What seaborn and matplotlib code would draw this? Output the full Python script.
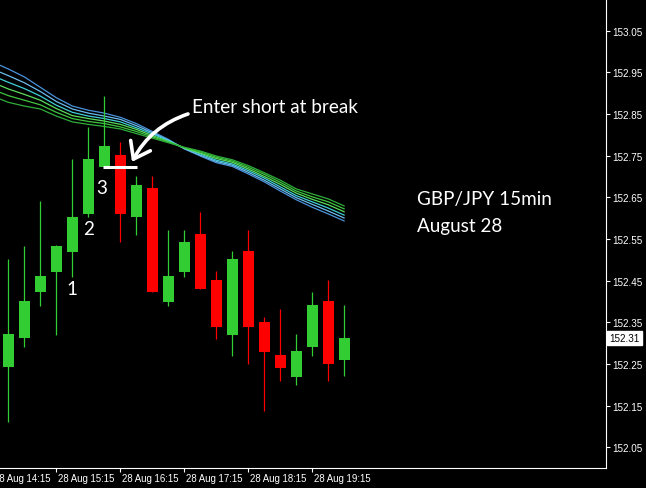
import numpy as np
import pandas as pd
import seaborn as sns
import matplotlib.pyplot as plt
from matplotlib.transforms import blended_transform_factory

# GBP/JPY 15min candles, 28 Aug 14:30 .. 19:45
candle_idx = list(range(22))
opens = [152.242, 152.312, 152.422, 152.471, 152.519, 152.610, 152.722, 152.752,
         152.602, 152.672, 152.399, 152.471, 152.562, 152.452, 152.320, 152.520,
         152.351, 152.271, 152.219, 152.290, 152.402, 152.260]
highs = [152.502, 152.534, 152.642, 152.536, 152.742, 152.818, 152.892, 152.782,
         152.700, 152.700, 152.572, 152.572, 152.614, 152.474, 152.520, 152.572,
         152.362, 152.382, 152.322, 152.423, 152.452, 152.391]
lows = [152.110, 152.290, 152.390, 152.320, 152.458, 152.602, 152.722, 152.542,
        152.560, 152.422, 152.390, 152.459, 152.430, 152.310, 152.270, 152.250,
        152.138, 152.210, 152.200, 152.270, 152.210, 152.220]
closes = [152.322, 152.402, 152.462, 152.534, 152.602, 152.742, 152.773, 152.610,
          152.680, 152.422, 152.460, 152.542, 152.430, 152.339, 152.502, 152.339,
          152.279, 152.241, 152.280, 152.391, 152.250, 152.312]

# moving average ribbon (6 lines), one value per candle starting one bar earlier
ma_idx = list(range(-1, 22))
ma_1 = [152.975, 152.958, 152.939, 152.914, 152.889, 152.869, 152.859, 152.852,
        152.842, 152.827, 152.808, 152.789, 152.766, 152.749, 152.733, 152.724,
        152.706, 152.687, 152.665, 152.644, 152.626, 152.610, 152.593]
ma_2 = [152.958, 152.942, 152.925, 152.904, 152.880, 152.862, 152.852, 152.845,
        152.837, 152.822, 152.805, 152.787, 152.767, 152.751, 152.736, 152.727,
        152.710, 152.691, 152.670, 152.649, 152.633, 152.617, 152.600]
ma_3 = [152.942, 152.926, 152.911, 152.893, 152.871, 152.854, 152.845, 152.839,
        152.831, 152.817, 152.802, 152.786, 152.768, 152.754, 152.739, 152.730,
        152.714, 152.696, 152.675, 152.654, 152.639, 152.624, 152.607]
ma_4 = [152.926, 152.910, 152.897, 152.883, 152.863, 152.846, 152.839, 152.833,
        152.825, 152.813, 152.798, 152.784, 152.768, 152.756, 152.743, 152.734,
        152.718, 152.700, 152.681, 152.660, 152.645, 152.632, 152.615]
ma_5 = [152.909, 152.894, 152.883, 152.872, 152.854, 152.839, 152.832, 152.827,
        152.819, 152.808, 152.795, 152.783, 152.769, 152.759, 152.746, 152.737,
        152.722, 152.705, 152.686, 152.665, 152.651, 152.639, 152.622]
ma_6 = [152.893, 152.878, 152.869, 152.862, 152.845, 152.831, 152.825, 152.820,
        152.814, 152.803, 152.792, 152.781, 152.770, 152.761, 152.749, 152.740,
        152.726, 152.709, 152.691, 152.670, 152.658, 152.646, 152.629]
ma_colors = ['#4a93dc', '#6cbcee', '#3fcfd6', '#5cdc5c', '#3fc63f', '#2fae3a']

ytick_vals = [152.05, 152.15, 152.25, 152.35, 152.45, 152.55,
              152.65, 152.75, 152.85, 152.95, 153.05]
xtick_idx = [-1, 3, 7, 11, 15, 19]
xtick_labels = ['28 Aug 14:15', '28 Aug 15:15', '28 Aug 16:15',
                '28 Aug 17:15', '28 Aug 18:15', '28 Aug 19:15']

sns.set_theme(style='dark', rc={'axes.facecolor': 'black',
                                'figure.facecolor': 'black',
                                'axes.grid': False})
plt.rcParams['font.family'] = ['Liberation Sans', 'DejaVu Sans']

fig = plt.figure(figsize=(6.46, 4.89), dpi=100)
ax = fig.add_axes([0, 20 / 489, 605.7 / 646, 469 / 489])

# MA ribbon
ma_df = pd.concat([
    pd.DataFrame({'idx': ma_idx, 'price': vals, 'line': name})
    for name, vals in zip(['m1', 'm2', 'm3', 'm4', 'm5', 'm6'],
                          [ma_1, ma_2, ma_3, ma_4, ma_5, ma_6])
])
sns.lineplot(data=ma_df, x='idx', y='price', hue='line', palette=ma_colors,
             legend=False, linewidth=0.9, ax=ax, zorder=2)

# candles
up = np.array(closes) >= np.array(opens)
cols = np.where(up, '#32cd32', '#ff0000')
ax.vlines(candle_idx, lows, highs, colors=cols, linewidth=0.9, zorder=3)
bottoms = np.minimum(opens, closes)
heights = np.abs(np.array(closes) - np.array(opens))
ax.bar(candle_idx, heights, bottom=bottoms, width=0.68, color=cols,
       linewidth=0, zorder=4)

ax.set_xlabel('')
ax.set_ylabel('')

# axes look (MT4 style)
for side in ['top', 'left']:
    ax.spines[side].set_visible(False)
for side in ['right', 'bottom']:
    ax.spines[side].set_visible(True)
    ax.spines[side].set_color('white')
    ax.spines[side].set_linewidth(0.8)

ax.yaxis.tick_right()
ax.set_yticks(ytick_vals, labels=[f'{v:.2f}' for v in ytick_vals])
ax.tick_params(axis='y', colors='white', labelsize=7.1, length=3, width=0.8,
               pad=2, direction='out', right=True, left=False)
ax.set_xticks(xtick_idx, labels=[''] * len(xtick_idx))
ax.tick_params(axis='x', colors='white', length=3, width=0.8,
               direction='out', bottom=True)

# limits last: set_xticks would widen them
ax.set_xlim(-0.52, 37.34)
ax.set_ylim(152.0, 153.126)

xtrans = blended_transform_factory(ax.transData, ax.transAxes)
for xi, lab in zip(xtick_idx, xtick_labels):
    ax.text(xi + 0.1, -0.022, lab, transform=xtrans, ha='left', va='center',
            color='white', fontsize=6.9, clip_on=False)

# current price box
ytrans = blended_transform_factory(ax.transAxes, ax.transData)
ax.text(1.006, closes[-1], f'{closes[-1]:.2f}', transform=ytrans,
        ha='left', va='center', color='black', fontsize=7.1, clip_on=False,
        bbox=dict(boxstyle='square,pad=0.2', fc='white', ec='white'))

# annotations
ann_font = dict(color='white', family='Lato', fontsize=13.6)
ax.text(11.48, 152.867, 'Enter short at break', ha='left', va='center', **ann_font)
ax.text(25.54, 152.646, 'GBP/JPY 15min', ha='left', va='center', **ann_font)
ax.text(25.54, 152.583, 'August 28', ha='left', va='center', **ann_font)
ax.text(4, lows[4] - 0.028, '1', ha='center', va='center', **ann_font)
ax.text(5, lows[5] - 0.026, '2', ha='center', va='center', **ann_font)
ax.text(5.85, lows[6] - 0.048, '3', ha='center', va='center', **ann_font)

ax.hlines(opens[6], 5.9, 8.05, colors='white', linewidth=2.2, zorder=5)
ax.annotate('', xy=(7.73, 152.735), xytext=(11.23, 152.850),
            arrowprops=dict(arrowstyle='->,head_length=0.55,head_width=0.4',
                            color='white', lw=2.6, mutation_scale=20,
                            shrinkA=0, shrinkB=0,
                            connectionstyle='arc3,rad=0.2'),
            zorder=6)

fig.savefig('out.png', dpi=100, facecolor='black')
